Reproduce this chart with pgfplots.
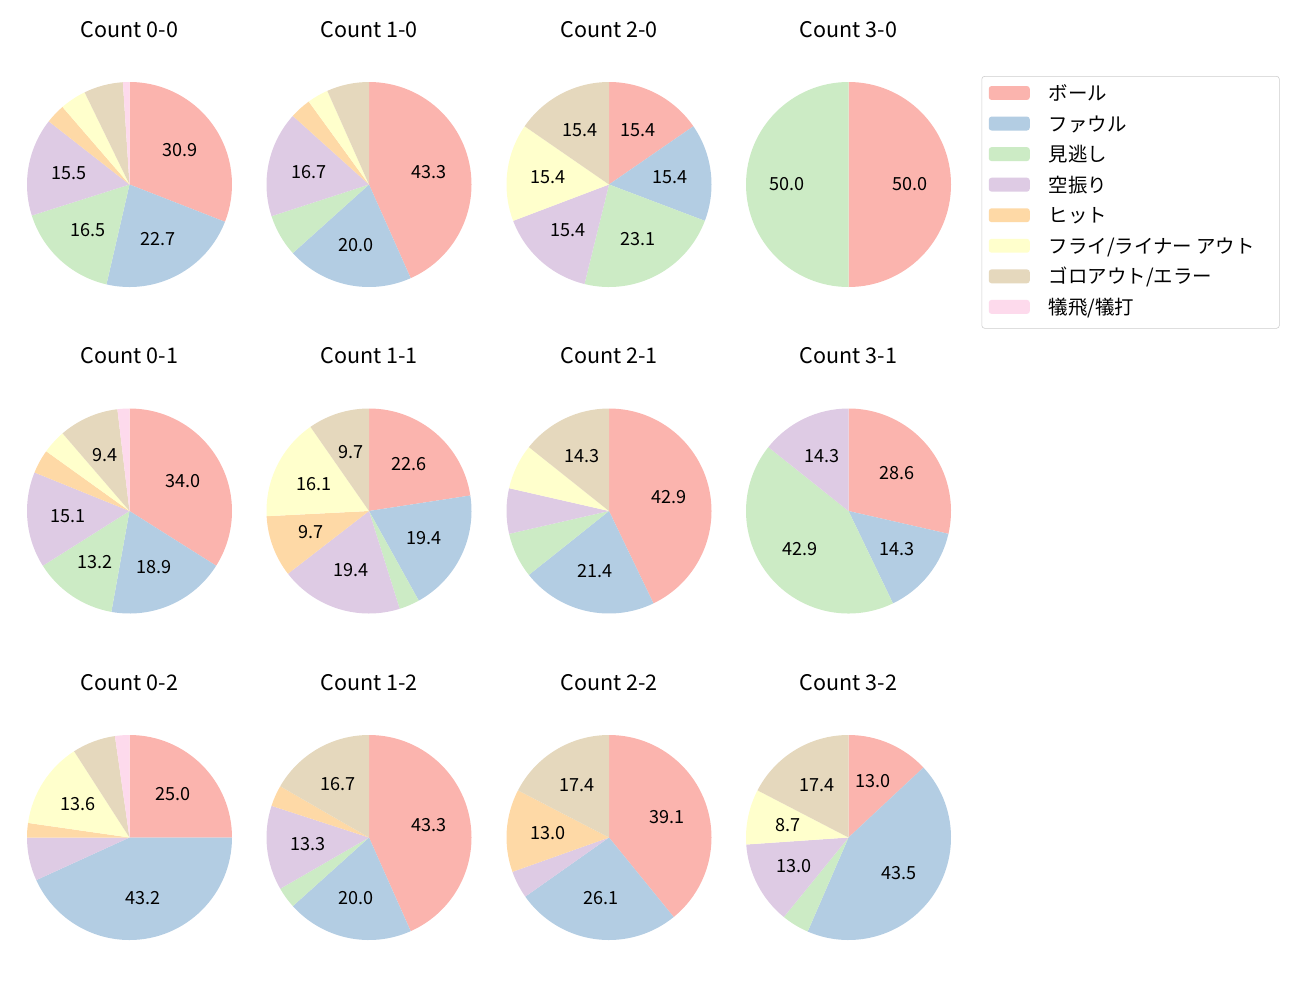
\documentclass[border=0pt]{standalone}
\usepackage{pgfplots}
\pgfplotsset{compat=1.18}
\usepackage{fontspec}
\setmainfont{Noto Sans CJK JP}
\definecolor{c1}{HTML}{FBB4AE}
\definecolor{c2}{HTML}{B3CDE3}
\definecolor{c3}{HTML}{CCEBC5}
\definecolor{c4}{HTML}{DECBE4}
\definecolor{c5}{HTML}{FED9A6}
\definecolor{c6}{HTML}{FFFFCC}
\definecolor{c7}{HTML}{E5D8BD}
\definecolor{c8}{HTML}{FDDAEC}
\def\R{73.8pt}
\newcommand{\pwedge}[2]{%
  \ifdim #1pt>0pt
    \pgfmathsetmacro\wspan{360*#1/\tot}%
    \pgfmathsetmacro\endang{\cumang-\wspan}%
    \pgfmathsetmacro\midang{\cumang-\wspan/2}%
    \pgfmathsetmacro\sx{cos(\cumang)}%
    \pgfmathsetmacro\sy{sin(\cumang)}%
    \fill[#2] (axis cs:0,0) -- (axis cs:\sx,\sy) arc[start angle=\cumang, end angle=\endang, radius=\R] -- cycle;
    \pgfmathsetmacro\pct{100*#1/\tot}%
    \ifdim\pct pt>8pt
      \pgfmathsetmacro\lx{0.6*cos(\midang)}%
      \pgfmathsetmacro\ly{0.6*sin(\midang)}%
      \node[font=\fontsize{13}{15}\selectfont, inner sep=0pt] at (axis cs:\lx,\ly) {\pgfmathprintnumber[fixed,fixed zerofill,precision=1,assume math mode=true]{\pct}};
    \fi
    \xdef\cumang{\endang}%
  \fi}
\newcommand{\drawpie}[8]{%
  \pgfplotsextra{%
    \pgfmathsetmacro\tot{#1+#2+#3+#4+#5+#6+#7+#8}%
    \gdef\cumang{90}%
    \pwedge{#1}{c1}\pwedge{#2}{c2}\pwedge{#3}{c3}\pwedge{#4}{c4}%
    \pwedge{#5}{c5}\pwedge{#6}{c6}\pwedge{#7}{c7}\pwedge{#8}{c8}%
  }}
\pgfplotsset{
  every axis title shift=0pt,
  pieaxis/.style={
    width=147.6pt, height=147.6pt, scale only axis,
    xmin=-1, xmax=1, ymin=-1, ymax=1,
    hide axis, clip=false, anchor=center,
    title style={at={(0.5,1.258)}, anchor=center, font=\fontsize{15.5}{18}\selectfont, inner sep=0pt},
  }
}
\begin{document}
\begin{tikzpicture}
\useasboundingbox (0,0) rectangle (936pt,-720pt);
% row 1
\begin{axis}[pieaxis, at={(93.24pt,-132.84pt)}, title={Count 0-0}]
\drawpie{30}{22}{16}{15}{3}{4}{6}{1}
\end{axis}
\begin{axis}[pieaxis, at={(265.68pt,-132.84pt)}, title={Count 1-0}]
\drawpie{13}{6}{2}{5}{1}{1}{2}{0}
\end{axis}
\begin{axis}[pieaxis, at={(438.48pt,-132.84pt)}, title={Count 2-0}]
\drawpie{2}{2}{3}{2}{0}{2}{2}{0}
\end{axis}
\begin{axis}[pieaxis, at={(610.92pt,-132.84pt)}, title={Count 3-0},
  legend style={at={(1.149,1.029)}, anchor=north west, draw=black!20, rounded corners=2pt,
    font=\fontsize{14}{16}\selectfont, row sep=8.6pt, column sep=13.7pt,
    inner xsep=5pt, inner ysep=7pt,
    nodes={inner sep=0pt, text height=8pt, text depth=3pt}},
  legend cell align=left,
  legend image code/.code={\fill[#1, draw=none] (0pt,-2.1pt) rectangle (29.5pt,7.9pt);}]
\addlegendimage{fill=c1, draw=none}
\addlegendimage{fill=c2, draw=none}
\addlegendimage{fill=c3, draw=none}
\addlegendimage{fill=c4, draw=none}
\addlegendimage{fill=c5, draw=none}
\addlegendimage{fill=c6, draw=none}
\addlegendimage{fill=c7, draw=none}
\addlegendimage{fill=c8, draw=none}
\drawpie{1}{0}{1}{0}{0}{0}{0}{0}
\legend{ボール,ファウル,見逃し,空振り,ヒット,\makebox[161pt][l]{フライ/ライナー アウト},ゴロアウト/エラー,犠飛/犠打}
\end{axis}
% row 2
\begin{axis}[pieaxis, at={(93.24pt,-367.92pt)}, title={Count 0-1}]
\drawpie{18}{10}{7}{8}{2}{2}{5}{1}
\end{axis}
\begin{axis}[pieaxis, at={(265.68pt,-367.92pt)}, title={Count 1-1}]
\drawpie{7}{6}{1}{6}{3}{5}{3}{0}
\end{axis}
\begin{axis}[pieaxis, at={(438.48pt,-367.92pt)}, title={Count 2-1}]
\drawpie{6}{3}{1}{1}{0}{1}{2}{0}
\end{axis}
\begin{axis}[pieaxis, at={(610.92pt,-367.92pt)}, title={Count 3-1}]
\drawpie{2}{1}{3}{1}{0}{0}{0}{0}
\end{axis}
% row 3
\begin{axis}[pieaxis, at={(93.24pt,-603.0pt)}, title={Count 0-2}]
\drawpie{11}{19}{0}{3}{1}{6}{3}{1}
\end{axis}
\begin{axis}[pieaxis, at={(265.68pt,-603.0pt)}, title={Count 1-2}]
\drawpie{13}{6}{1}{4}{1}{0}{5}{0}
\end{axis}
\begin{axis}[pieaxis, at={(438.48pt,-603.0pt)}, title={Count 2-2}]
\drawpie{9}{6}{0}{1}{3}{0}{4}{0}
\end{axis}
\begin{axis}[pieaxis, at={(610.92pt,-603.0pt)}, title={Count 3-2}]
\drawpie{3}{10}{1}{3}{0}{2}{4}{0}
\end{axis}
\end{tikzpicture}
\end{document}
